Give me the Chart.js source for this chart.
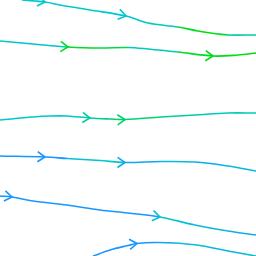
<!DOCTYPE html>
<html><head><meta charset="utf-8">
<script src="https://cdn.jsdelivr.net/npm/chart.js@4"></script>
<style>html,body{margin:0;padding:0;background:#fff}#c{display:block}</style>
</head><body>
<div style="width:256px;height:256px"><canvas id="c" width="256" height="256"></canvas></div>
<script>
// Streamline data: x, y, speed level (0 blue, 1 cyan, 2 green), arrow indices
const s1x = [22, 45, 60, 90, 126, 148, 178, 198, 218, 228, 256];
const s1y = [0, 2, 5, 10, 16, 23, 27, 31, 34, 35, 35];
const s1c = [1, 1, 1, 1, 1, 1.1, 1.9, 2, 1.8, 1.2, 1];
const s1a = [1, 4];

const s2x = [0, 33, 68, 100, 128, 148, 178, 213, 238, 256];
const s2y = [41, 44, 47, 48, 47.5, 49, 52, 56, 55, 53];
const s2c = [1, 1, 1.9, 1.7, 1.1, 1.1, 1.9, 2, 2, 2];
const s2a = [2, 7];

const s3x = [0, 33, 50, 67, 90, 110, 125, 161, 195, 228, 256];
const s3y = [120, 117, 116, 116, 118, 119, 119.5, 117, 115, 113, 113];
const s3c = [1, 1, 1, 1, 1.3, 1.6, 1.5, 1.3, 1.1, 1.1, 1];
const s3a = [4, 6];

const s4x = [0, 45, 67, 100, 125, 161, 195, 228, 256];
const s4y = [156, 157, 158.5, 160.5, 162.5, 161.5, 162, 166, 171];
const s4c = [0, 0, 0.9, 1, 0.3, 0.7, 0.4, 0.7, 0.3];
const s4a = [1, 4];

const s5x = [0, 12, 33, 67, 100, 128, 160, 195, 228, 256];
const s5y = [196, 197, 201, 205, 210, 213, 217, 225, 231, 235];
const s5c = [0, 0, 0, 0, 0, 0, 0.9, 0.7, 0.5, 0.4];
const s5a = [1, 6];

const s6x = [93, 110, 128, 137, 155, 175, 200, 228, 256];
const s6y = [256, 250, 245.5, 243.5, 242.5, 243, 245.5, 251, 256];
const s6c = [0, 0, 0, 0, 0.3, 0.8, 0.7, 0.7, 0.6];
const s6a = [3];

const streams = [
  [s1x, s1y, s1c, s1a], [s2x, s2y, s2c, s2a], [s3x, s3y, s3c, s3a],
  [s4x, s4y, s4c, s4a], [s5x, s5y, s5c, s5a], [s6x, s6y, s6c, s6a]
];

const stops = [[25, 150, 255], [0, 200, 205], [0, 221, 20]];
function colorOf(v) {
  v = Math.max(0, Math.min(2, v));
  const i = Math.min(1, Math.floor(v));
  const t = v - i;
  const a = stops[i], b = stops[i + 1];
  const c = a.map((q, k) => Math.round(q + (b[k] - q) * t));
  return `rgb(${c[0]},${c[1]},${c[2]})`;
}

const datasets = streams.map(([xs, ys, cs, as]) => ({
  data: xs.map((x, i) => ({x, y: ys[i]})),
  levels: cs,
  arrows: as,
  borderWidth: 1.6,
  pointRadius: 0,
  tension: 0.35,
  borderColor: colorOf(cs[0]),
  segment: { borderColor: ctx => colorOf(cs[ctx.p0DataIndex]) },
  clip: 4
}));

const arrowPlugin = {
  id: 'arrows',
  afterDatasetsDraw(chart) {
    const g = chart.ctx;
    chart.data.datasets.forEach((ds, di) => {
      const meta = chart.getDatasetMeta(di);
      ds.arrows.forEach(i => {
        const p = meta.data[i], q = meta.data[i - 1] || meta.data[i];
        const n = meta.data[i + 1];
        let dx = p.x - q.x, dy = p.y - q.y;
        if (n) { dx = (n.x - q.x); dy = (n.y - q.y); }
        const ang = Math.atan2(dy, dx);
        const L = 9, w = 0.6;
        g.save();
        g.strokeStyle = colorOf(ds.levels[i]);
        g.lineWidth = 1.6;
        g.lineCap = 'butt';
        g.beginPath();
        g.moveTo(p.x - L * Math.cos(ang - w), p.y - L * Math.sin(ang - w));
        g.lineTo(p.x, p.y);
        g.lineTo(p.x - L * Math.cos(ang + w), p.y - L * Math.sin(ang + w));
        g.stroke();
        g.restore();
      });
    });
  }
};

new Chart(document.getElementById('c'), {
  type: 'line',
  data: { datasets },
  options: {
    responsive: false,
    animation: false,
    events: [],
    layout: { padding: 0 },
    plugins: { legend: { display: false }, tooltip: { enabled: false } },
    scales: {
      x: { type: 'linear', min: 0, max: 256, display: false },
      y: { type: 'linear', min: 0, max: 256, reverse: true, display: false }
    }
  },
  plugins: [arrowPlugin]
});
</script>
</body></html>
